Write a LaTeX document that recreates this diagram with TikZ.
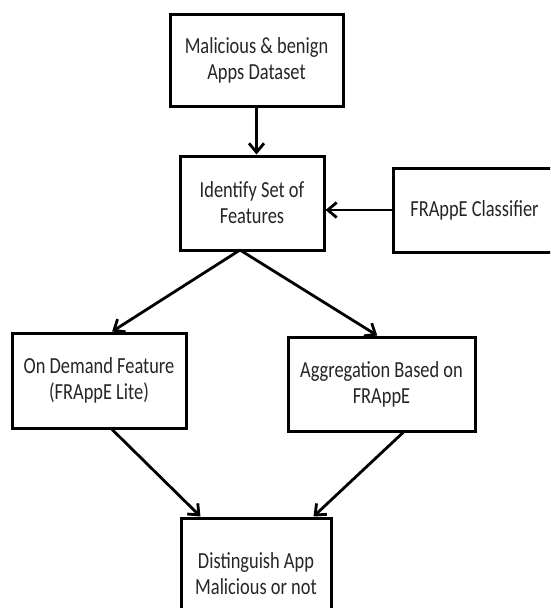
\documentclass[tikz,border=0pt]{standalone}
\usepackage{fontspec}
\setmainfont{Carlito}[FakeStretch=0.8]
\usetikzlibrary{arrows.meta}
\begin{document}
\begin{tikzpicture}
		[x=1pt,y=-1pt,
		mybox/.style={rectangle,draw,line width=3pt,align=center,inner sep=0pt,
			font=\fontsize{23}{26}\selectfont,text=black!85},
		myarrow/.style={line width=2.8pt,-{Straight Barb[length=9pt,width=15pt]}}]
		\clip (0,0) rectangle (550,608);
		\fill[white] (0,0) rectangle (550,608);
		\node[mybox,name=data,minimum width=173pt,minimum height=92pt] at (256.5,60) {Malicious \& benign\\Apps Dataset};
		\node[mybox,name=feat,minimum width=144pt,minimum height=94pt] at (252,203) {Identify Set of\\Features};
		\node[mybox,name=clf,minimum width=163pt,minimum height=84pt] at (474.5,210) {FRAppE Classifier};
		\node[mybox,name=demand,minimum width=174pt,minimum height=95pt] at (99,380.5) {On Demand Feature\\(FRAppE Lite)};
		\node[mybox,name=aggr,minimum width=187pt,minimum height=94pt] at (381.5,384) {Aggregation Based on\\FRAppE};
		\node[mybox,name=dist,minimum width=150pt,minimum height=112pt] at (256,574) {Distinguish App\\Malicious or not};
		\coordinate (split) at (240,250);
		\draw[myarrow] (data.south) -- (data.south |- feat.north);
		\draw[myarrow] (clf.west) -- (clf.west -| feat.east);
		\draw[myarrow] (split) -- (demand.75);
		\draw[myarrow] (split) -- (aggr.95);
		\draw[myarrow] (demand.-75) -- (dist.134);
		\draw[myarrow] (aggr.-66) -- (dist.45);
	\end{tikzpicture}
\end{document}
